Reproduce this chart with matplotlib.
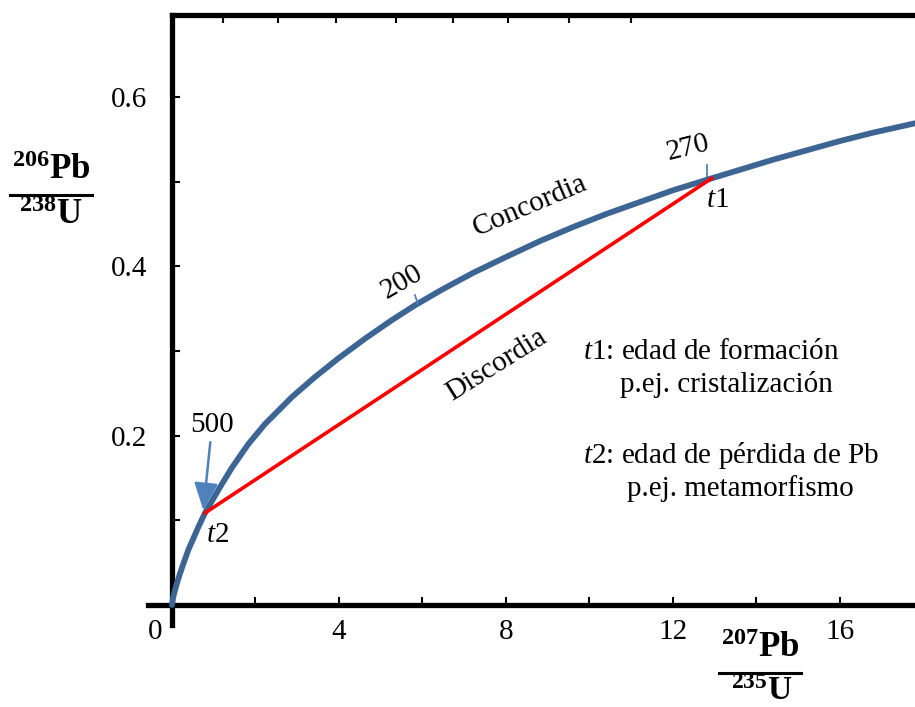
import matplotlib
matplotlib.use('Agg')
import matplotlib.pyplot as plt
from matplotlib.lines import Line2D

plt.rcParams['font.family'] = 'Liberation Serif'
plt.rcParams['mathtext.fontset'] = 'custom'
plt.rcParams['mathtext.rm'] = 'Liberation Serif'
plt.rcParams['mathtext.it'] = 'Liberation Serif:italic'
plt.rcParams['mathtext.bf'] = 'Liberation Serif:bold'

# concordia curve (207Pb/235U, 206Pb/238U)
conc_x = [0.0, 0.019, 0.060, 0.120, 0.192, 0.287, 0.390, 0.630, 0.790, 1.109, 1.430,
          1.828, 2.228, 2.874, 3.425, 3.976, 4.623, 5.269, 5.820, 6.467, 7.22, 8.02,
          8.82, 9.61, 10.41, 11.21, 12.01, 12.93, 13.60, 14.40, 15.20, 16.00, 16.80, 17.80]
conc_y = [0.0, 0.0071, 0.0154, 0.026, 0.0372, 0.0508, 0.065, 0.092, 0.1087, 0.1358, 0.1618,
          0.1901, 0.2138, 0.2457, 0.2693, 0.2910, 0.3146, 0.3366, 0.3540, 0.3725, 0.3925, 0.4115,
          0.430, 0.4465, 0.462, 0.476, 0.490, 0.504, 0.514, 0.526, 0.537, 0.548, 0.558, 0.569]

# discordia between t2 and t1
disc_x = [0.79, 12.93]
disc_y = [0.1087, 0.504]

# small age marks on the concordia
mark200_x = [5.82, 5.89]
mark200_y = [0.366, 0.356]
mark270_x = [12.81, 12.81]
mark270_y = [0.520, 0.504]

top_ticks = [1.22, 2.54, 3.93, 5.36, 6.73, 8.05, 9.51, 10.99]

blue = '#3D6594'
arrow_blue = '#4F81BD'

fig = plt.figure(figsize=(9.15, 7.07), dpi=100)
ax = fig.add_axes([148 / 915, 82 / 707, 767 / 915, 610 / 707])
ax.set_xlim(-0.575, 17.8)
ax.set_ylim(-0.0236, 0.6969)

ax.plot(conc_x, conc_y, color=blue, lw=4.2, solid_capstyle='round',
        solid_joinstyle='round', zorder=3)
ax.plot(disc_x, disc_y, color='#FF0000', lw=2.6, zorder=4)
ax.plot(mark200_x, mark200_y, color=arrow_blue, lw=1.3, zorder=5)
ax.plot(mark270_x, mark270_y, color=arrow_blue, lw=1.3, zorder=2)

for s in ['left', 'bottom']:
    ax.spines[s].set_position(('data', 0))
    ax.spines[s].set_linewidth(3.8)
ax.spines['right'].set_visible(False)
ax.spines['top'].set_linewidth(3.8)
ax.spines['top'].set_bounds(0, 17.8)

ax.set_xticks([4, 8, 12, 16])
ax.set_xticks([2, 6, 10, 14], minor=True)
ax.set_yticks([0.2, 0.4, 0.6])
ax.set_yticks([0.1, 0.3, 0.5], minor=True)
ax.tick_params(which='both', direction='in', length=6, width=1.5)
ax.tick_params(axis='x', labelsize=21, pad=10)
ax.tick_params(axis='y', labelsize=21, pad=18)
ax.text(-0.41, -0.032, '0', fontsize=21, ha='center', va='center', clip_on=False)

tw = ax.twiny()
tw.set_xlim(ax.get_xlim())
tw.set_xticks(top_ticks)
tw.set_xticklabels([])
tw.tick_params(direction='in', length=6, width=1.5)
for s in tw.spines.values():
    s.set_visible(False)

# annotations
ax.annotate('500', xy=(0.75, 0.112), xytext=(0.96, 0.2126), fontsize=21,
            ha='center', va='center',
            arrowprops=dict(arrowstyle='-|>,head_length=0.8,head_width=0.35',
                            color=arrow_blue, lw=1.8, shrinkA=1, shrinkB=0))
ax.text(1.08, 0.083, '$t$2', fontsize=21, ha='center', va='center')
ax.text(13.08, 0.478, '$t$1', fontsize=21, ha='center', va='center')
ax.text(5.51, 0.381, '200', fontsize=21, rotation=30, ha='center', va='center')
ax.text(12.36, 0.540, '270', fontsize=21, rotation=14, ha='center', va='center')
ax.text(8.57, 0.472, 'Concordia', fontsize=21, rotation=23, ha='center', va='center')
ax.text(7.78, 0.284, 'Discordia', fontsize=21, rotation=32, ha='center', va='center')

ax.text(9.84, 0.299, '$t$1: edad de formación', fontsize=21, ha='left', va='center')
ax.text(10.73, 0.261, 'p.ej. cristalización', fontsize=21, ha='left', va='center')
ax.text(9.84, 0.177, '$t$2: edad de pérdida de Pb', fontsize=21, ha='left', va='center')
ax.text(10.90, 0.138, 'p.ej. metamorfismo', fontsize=21, ha='left', va='center')

# axis labels as fractions
fig.text(51 / 915, 1 - 187 / 707, r'$\mathbf{{}^{206}Pb}$', fontsize=25, ha='center', va='bottom')
fig.add_artist(Line2D([10 / 915, 92 / 915], [1 - 195 / 707] * 2, color='black', lw=2.2))
fig.text(51 / 915, 1 - 199 / 707, r'$\mathbf{{}^{238}U}$', fontsize=25, ha='center', va='top')

fig.text(760 / 915, 1 - 665 / 707, r'$\mathbf{{}^{207}Pb}$', fontsize=25, ha='center', va='bottom')
fig.add_artist(Line2D([719 / 915, 801 / 915], [1 - 673 / 707] * 2, color='black', lw=2.2))
fig.text(762 / 915, 1 - 676 / 707, r'$\mathbf{{}^{235}U}$', fontsize=24, ha='center', va='top')

fig.savefig('out.png', dpi=100)
